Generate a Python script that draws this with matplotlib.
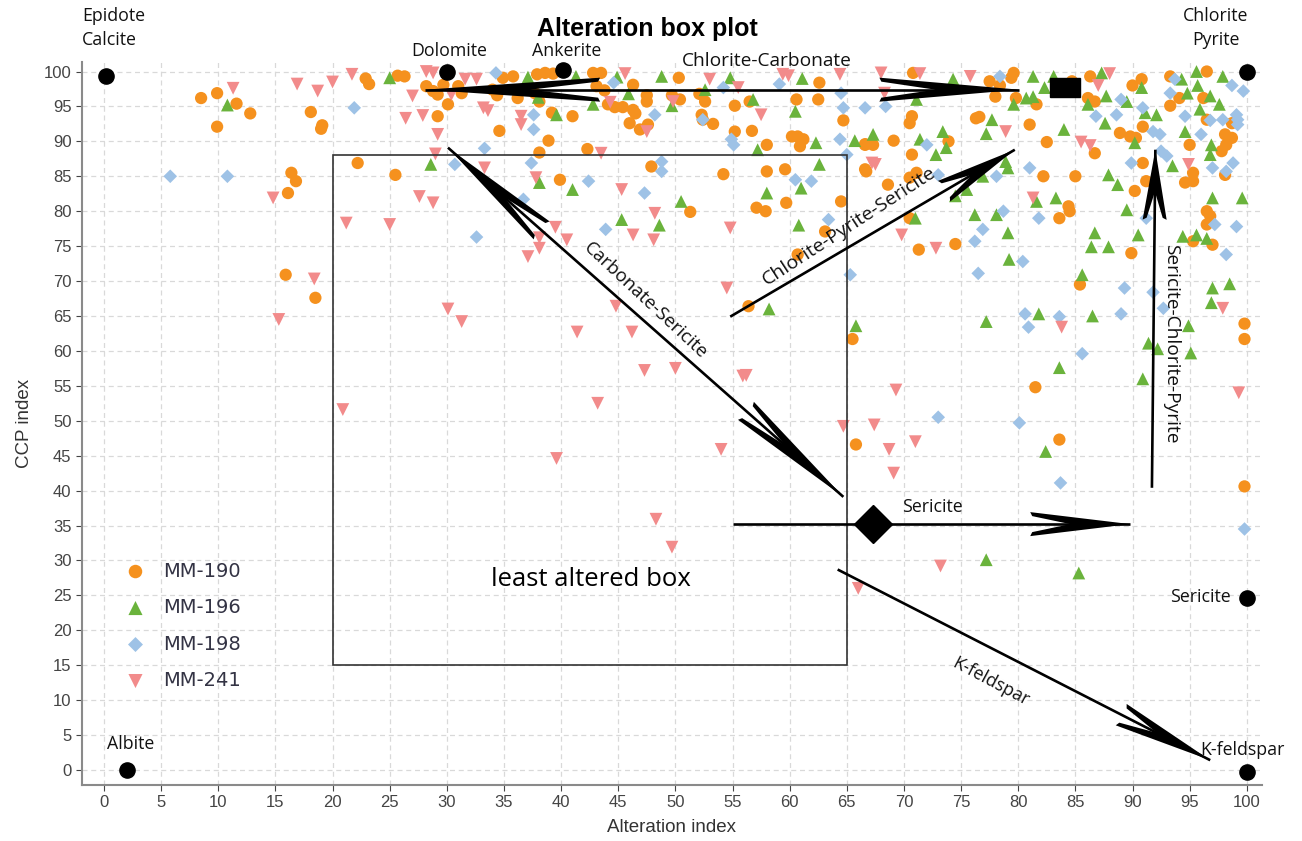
import numpy as np
import matplotlib
matplotlib.use("Agg")
import matplotlib.pyplot as plt
from matplotlib.patches import Polygon, Rectangle

# ---- sample data (Alteration index, CCP index) ----
mm190_x = [8.5, 9.9, 11.6, 12.8, 9.9, 18.1, 19.1, 19.0, 16.4, 16.8, 16.1, 15.9, 18.5, 22.2, 25.5,
           22.9, 23.2, 25.7, 26.3, 28.2, 28.8, 29.2, 29.7, 30.1, 29.2, 31.0, 31.3, 34.6, 38.9, 38.1,
           42.3, 39.9, 41.0, 39.2, 36.2, 34.4, 34.0, 34.9, 35.8, 37.9, 38.6, 39.3, 42.8, 43.5, 38.1,
           37.7, 43.8, 43.1, 46.3, 46.0, 46.5, 47.5, 46.9, 47.6, 47.9, 51.3, 44.1, 44.7, 45.4, 46.3,
           47.5, 49.7, 50.4, 50.3, 52.1, 52.6, 52.3, 52.4, 53.3, 55.2, 55.2, 56.7, 56.5, 54.2, 58.0,
           58.0, 59.6, 57.1, 57.9, 59.7, 60.6, 60.2, 60.7, 61.2, 60.9, 62.6, 62.5, 64.7, 64.5, 63.1,
           66.6, 66.6, 60.7, 56.4, 65.5, 65.8, 70.8, 70.7, 70.5, 69.1, 67.3, 70.7, 66.7, 68.6, 70.5,
           71.1, 70.5, 71.3, 74.5, 73.9, 76.3, 76.6, 77.5, 78.0, 79.6, 79.4, 78.4, 79.8, 81.6, 81.0,
           82.5, 82.2, 85.0, 83.6, 84.4, 84.5, 84.7, 86.3, 86.1, 86.7, 86.7, 88.9, 89.8, 90.3, 90.9,
           90.2, 90.9, 91.2, 89.9, 90.0, 90.8, 93.3, 94.1, 93.3, 96.5, 96.2, 95.0, 94.6, 95.3, 95.3,
           96.5, 96.8, 96.5, 95.3, 97.0, 98.1, 98.7, 98.2, 97.8, 98.7, 98.1, 85.4, 96.5, 81.5, 83.6,
           99.8, 99.8, 99.8, 66.6]
mm190_y = [96.2, 96.9, 95.4, 94.0, 92.1, 94.2, 92.3, 91.8, 85.5, 84.3, 82.6, 70.9, 67.6, 86.9, 85.2,
           99.0, 98.2, 99.4, 99.3, 97.9, 97.2, 96.7, 98.1, 95.3, 93.6, 97.9, 96.9, 91.5, 90.1, 88.4,
           88.9, 84.5, 93.6, 94.1, 96.2, 96.6, 97.4, 99.1, 99.3, 99.6, 99.8, 99.7, 99.8, 99.8, 95.7,
           96.9, 97.3, 97.9, 98.1, 92.6, 94.0, 95.7, 91.7, 92.4, 86.4, 79.9, 95.3, 94.9, 94.9, 94.5,
           96.6, 96.6, 96.0, 99.1, 96.8, 95.7, 93.8, 93.1, 92.5, 95.1, 91.4, 91.5, 95.7, 85.3, 89.5,
           85.7, 86.0, 80.5, 80.0, 81.2, 96.0, 90.7, 90.7, 90.3, 89.3, 98.4, 96.0, 93.0, 81.4, 77.1,
           86.0, 89.5, 73.8, 66.4, 61.7, 46.6, 99.8, 93.6, 92.6, 90.1, 89.5, 88.1, 85.7, 83.8, 84.8,
           85.5, 79.0, 74.5, 75.3, 90.0, 93.3, 93.5, 98.6, 96.4, 99.8, 99.1, 98.0, 96.2, 95.3, 92.4,
           89.9, 85.0, 85.0, 79.0, 80.7, 80.0, 98.6, 99.3, 96.2, 95.7, 88.3, 91.2, 90.7, 90.5, 92.1,
           82.9, 86.9, 84.3, 74.0, 98.0, 98.9, 95.1, 96.2, 99.3, 100.0, 96.2, 89.5, 84.1, 84.3, 85.5,
           80.0, 79.3, 78.1, 75.7, 75.2, 91.0, 90.5, 89.5, 88.6, 92.6, 85.2, 69.5, 93.1, 54.8, 47.3,
           63.9, 61.7, 40.6, 89.6]

mm196_x = [10.8, 25.0, 28.6, 37.1, 41.3, 38.0, 42.8, 44.9, 45.9, 48.8, 49.7, 52.6, 54.8, 56.8, 60.5,
           61.1, 62.3, 65.7, 62.6, 57.2, 39.6, 38.1, 41.0, 50.5, 45.3, 48.6, 58.0, 61.0, 60.8, 58.2,
           65.8, 74.3, 71.1, 67.3, 71.4, 73.4, 72.8, 73.7, 71.0, 74.5, 75.5, 76.9, 76.2, 78.1, 79.1,
           79.2, 78.9, 79.1, 77.2, 77.7, 81.3, 83.1, 82.3, 79.6, 80.7, 81.3, 84.0, 81.6, 83.3, 87.3,
           87.7, 86.1, 89.5, 90.8, 91.1, 92.1, 87.6, 87.9, 88.7, 89.5, 90.2, 86.7, 86.4, 87.9, 90.5,
           85.6, 94.3, 94.8, 95.6, 95.7, 97.9, 96.8, 97.6, 95.9, 94.6, 93.5, 96.9, 96.8, 97.0, 99.6,
           94.4, 95.6, 96.5, 97.0, 98.5, 96.9, 77.2, 81.8, 86.5, 83.6, 82.4, 94.9, 91.4, 92.2, 95.1,
           90.9, 77.2, 85.3]
mm196_y = [95.2, 99.1, 86.7, 99.2, 99.3, 96.3, 95.3, 99.2, 96.8, 99.3, 95.1, 97.4, 99.1, 96.0, 94.3,
           99.0, 89.8, 90.1, 86.7, 88.8, 93.8, 84.1, 83.1, 81.4, 78.8, 78.0, 82.6, 83.3, 78.0, 66.0,
           63.6, 98.9, 96.0, 91.0, 90.3, 91.4, 88.1, 89.1, 79.0, 82.2, 83.1, 85.0, 79.5, 79.5, 76.9,
           73.1, 87.1, 86.2, 91.1, 93.1, 99.3, 99.3, 97.7, 95.3, 96.2, 96.4, 91.7, 81.4, 81.9, 99.8,
           96.5, 95.3, 95.7, 97.7, 94.1, 93.8, 92.6, 85.2, 83.8, 80.2, 89.8, 76.9, 74.9, 74.9, 76.6,
           70.9, 98.9, 96.9, 100.0, 98.0, 99.3, 96.5, 95.3, 94.6, 91.4, 86.5, 89.5, 88.1, 81.9, 81.9,
           76.4, 76.6, 76.1, 69.0, 69.6, 66.9, 64.2, 65.3, 65.0, 57.6, 45.6, 63.6, 61.1, 60.3, 59.7,
           56.0, 30.1, 28.2]

mm198_x = [5.8, 10.8, 21.9, 30.7, 32.6, 34.3, 33.3, 37.4, 37.6, 37.6, 42.4, 47.3, 48.8, 48.8, 48.2,
           43.9, 36.7, 52.4, 54.2, 54.9, 55.1, 44.6, 60.5, 61.9, 63.4, 65.3, 64.5, 64.7, 64.4, 65.0,
           66.6, 59.1, 68.4, 72.0, 73.0, 78.1, 78.7, 76.9, 76.2, 76.5, 80.4, 81.0, 81.8, 78.4, 86.8,
           88.6, 89.0, 90.9, 91.8, 92.4, 92.5, 93.0, 89.9, 91.2, 93.3, 93.7, 96.0, 97.0, 97.2, 99.1,
           98.2, 98.8, 98.2, 99.1, 99.2, 99.2, 98.7, 99.7, 96.8, 97.9, 94.6, 89.3, 91.8, 92.7, 73.0,
           80.1, 83.7, 99.8, 80.6, 80.9, 83.6, 89.0, 85.6]
mm198_y = [85.0, 85.0, 94.8, 86.7, 76.3, 99.8, 89.0, 86.9, 91.7, 93.8, 84.3, 82.6, 87.1, 85.7, 93.8,
           77.4, 81.7, 93.1, 97.7, 90.3, 89.5, 98.4, 84.5, 84.3, 78.8, 70.9, 96.9, 94.8, 90.3, 88.1,
           94.8, 98.2, 95.0, 89.5, 85.2, 85.0, 80.0, 77.4, 75.7, 71.1, 72.8, 86.2, 79.0, 99.3, 93.6,
           93.8, 96.0, 94.8, 91.4, 91.0, 88.6, 87.9, 86.9, 79.0, 96.9, 98.9, 91.0, 86.2, 78.1, 77.8,
           73.8, 86.9, 85.7, 93.8, 93.1, 92.4, 98.0, 97.2, 93.0, 93.1, 93.6, 69.0, 68.4, 66.1, 50.5,
           49.7, 41.1, 34.5, 65.3, 63.4, 64.9, 65.3, 59.6]

mm241_x = [11.3, 16.9, 18.7, 20.0, 21.7, 27.0, 26.4, 27.9, 29.2, 29.0, 28.2, 28.8, 31.6, 32.6, 30.4,
           27.6, 28.8, 21.2, 25.0, 14.8, 18.4, 15.3, 30.1, 20.9, 31.3, 44.8, 41.4, 46.2, 47.3, 50.0,
           56.2, 55.9, 43.2, 54.0, 39.6, 48.3, 49.7, 64.7, 33.2, 33.6, 36.5, 36.5, 33.3, 43.5, 37.8,
           45.3, 48.2, 46.3, 48.1, 54.8, 39.5, 40.5, 38.1, 38.1, 37.1, 45.6, 55.5, 53.0, 49.8, 47.5,
           44.3, 57.5, 59.4, 59.9, 64.4, 54.5, 68.0, 71.4, 75.8, 88.0, 87.0, 68.3, 78.9, 67.2, 67.5,
           85.5, 86.3, 81.3, 69.8, 72.8, 94.9, 97.9, 83.8, 69.3, 67.4, 68.7, 71.0, 69.1, 99.3, 73.2,
           66.0]
mm241_y = [97.6, 98.2, 97.2, 98.5, 99.6, 96.5, 93.3, 93.7, 91.0, 88.2, 100.0, 99.8, 98.9, 98.9, 96.7,
           82.1, 81.2, 78.3, 78.1, 81.9, 70.3, 64.5, 66.0, 51.6, 64.2, 66.4, 62.7, 62.7, 57.2, 57.5,
           56.5, 56.4, 52.5, 45.9, 44.6, 35.9, 31.9, 49.2, 94.8, 94.4, 93.6, 92.4, 86.2, 88.3, 84.8,
           83.1, 79.7, 76.6, 75.9, 77.6, 77.7, 75.9, 76.2, 74.7, 73.5, 99.7, 97.7, 98.9, 95.7, 91.4,
           95.6, 93.8, 99.6, 99.4, 99.6, 69.0, 99.8, 99.7, 99.3, 99.7, 98.0, 96.9, 91.4, 86.9, 86.7,
           89.9, 89.4, 81.9, 76.6, 74.7, 86.7, 66.1, 63.4, 54.4, 49.4, 45.9, 47.0, 42.5, 54.0, 29.2,
           26.0]

# mineral end-members
mineral_x = [0.2, 30.0, 40.2, 100.0, 100.0, 100.0, 2.0]
mineral_y = [99.3, 100.0, 100.2, 100.0, 24.6, -0.3, 0.0]

# alteration trend arrows: (tail, tip, double headed)
trends = [
    ((80.1, 97.4), (28.1, 97.4), True),      # chlorite-carbonate
    ((30.1, 89.1), (64.7, 39.1), True),      # carbonate-sericite
    ((54.8, 64.9), (79.7, 88.8), False),     # chlorite-pyrite-sericite
    ((91.7, 40.4), (92.0, 88.8), False),     # sericite-chlorite-pyrite
    ((55.0, 35.2), (89.8, 35.2), False),     # sericite
    ((64.2, 28.7), (96.8, 1.4), False),      # K-feldspar
]
head_len = [(175, 140), (130, 125), (82,), (70,), (100,), (100,)]

orange = '#F5911E'
green = '#6AB33C'
blue = '#9EC2E6'
pink = '#F28B8B'
ann_font = 'Open Sans'

fig = plt.figure(figsize=(13.02, 8.41), dpi=100)
ax = fig.add_axes([0.063, 0.0666, 0.906, 0.860])
ax.set_xlim(-1.92, 101.3)
ax.set_ylim(-2.15, 101.4)

ax.set_xticks(np.arange(0, 101, 5))
ax.set_yticks(np.arange(0, 101, 5))
ax.grid(True, color='#d9d9d9', linestyle=(0, (4, 3)), linewidth=0.9)
ax.set_axisbelow(True)
ax.tick_params(colors='#444444', labelsize=12, length=4, width=0.8)
for lab in ax.get_xticklabels() + ax.get_yticklabels():
    lab.set_family('Liberation Sans')
for s in ['top', 'right']:
    ax.spines[s].set_visible(False)
for s in ['left', 'bottom']:
    ax.spines[s].set_color('#8a8a8a')
    ax.spines[s].set_linewidth(1.5)
ax.set_xlabel('Alteration index', fontsize=13.5, color='#333333', family='Liberation Sans', labelpad=6)
ax.set_ylabel('CCP index', fontsize=13.5, color='#333333', family='Liberation Sans', labelpad=8)

ax.scatter(mm190_x, mm190_y, s=78, marker='o', color=orange, edgecolors='none', label='MM-190', zorder=3)
ax.scatter(mm196_x, mm196_y, s=85, marker='^', color=green, edgecolors='none', label='MM-196', zorder=3)
ax.scatter(mm198_x, mm198_y, s=48, marker='D', color=blue, edgecolors='none', label='MM-198', zorder=3)
ax.scatter(mm241_x, mm241_y, s=85, marker='v', color=pink, edgecolors='none', label='MM-241', zorder=3)

leg = ax.legend(loc='upper left', bbox_to_anchor=(0.014, 0.333), frameon=False, fontsize=14,
                labelspacing=0.9, handletextpad=0.4, markerscale=1.1)
for t in leg.get_texts():
    t.set_color('#333344')

ax.scatter(mineral_x, mineral_y, s=120, color='black', zorder=6, clip_on=False)

# least altered box
ax.add_patch(Rectangle((20, 15), 45, 73, fill=False, edgecolor='#333333', linewidth=1.2, zorder=4))
ax.text(42.6, 27.2, 'least altered box', fontsize=18.5, family=ann_font, ha='center', va='center', zorder=5)


def barbed_head(tip, tail, length, half=12, notch=0.6, barb=4):
    T = ax.transData
    pt = T.transform(tip)
    pb = T.transform(tail)
    d = pt - pb
    d = d / np.hypot(*d)
    n = np.array([-d[1], d[0]])
    pts = [pt,
           pt - d * length + n * half,
           pt - d * (length - 2) + n * (half - barb),
           pt - d * length * notch,
           pt - d * (length - 2) - n * (half - barb),
           pt - d * length - n * half]
    pts = T.inverted().transform(np.array(pts))
    ax.add_patch(Polygon(pts, closed=True, color='black', linewidth=0, zorder=7))


for (tail, tip, both), hl in zip(trends, head_len):
    ax.plot([tail[0], tip[0]], [tail[1], tip[1]], color='black', linewidth=1.9, zorder=7,
            solid_capstyle='butt')
    barbed_head(tip, tail, hl[0])
    if both:
        barbed_head(tail, tip, hl[1])

ax.plot([67.3], [35.2], marker='D', markersize=19, color='black', zorder=8)
ax.add_patch(Rectangle((82.8, 96.4), 2.6, 2.6, color='black', zorder=8))

# labels
kw = dict(family=ann_font, fontsize=12.8, color='#111111', zorder=9)
ax.text(-1.9, 106.2, 'Epidote\nCalcite', ha='left', va='center', linespacing=1.45, clip_on=False, **kw)
ax.text(97.3, 106.2, 'Chlorite\nPyrite', ha='center', va='center', linespacing=1.45, clip_on=False, **kw)
ax.text(30.2, 102.9, 'Dolomite', ha='center', va='center', clip_on=False, **kw)
ax.text(40.5, 102.9, 'Ankerite', ha='center', va='center', clip_on=False, **kw)
ax.text(58.0, 101.5, 'Chlorite-Carbonate', ha='center', va='center', clip_on=False,
        **{**kw, 'fontsize': 13.8})
ax.text(98.6, 24.8, 'Sericite', ha='right', va='center', **kw)
ax.text(95.9, 2.9, 'K-feldspar', ha='left', va='center', clip_on=False, **kw)
ax.text(2.3, 3.7, 'Albite', ha='center', va='center', **kw)
ax.text(72.5, 37.6, 'Sericite', ha='center', va='center', **kw)
ax.text(47.4, 67.2, 'Carbonate-Sericite', ha='center', va='center', rotation=-43,
        rotation_mode='anchor', **{**kw, 'fontsize': 13.5})
ax.text(65.2, 77.8, 'Chlorite-Pyrite-Sericite', ha='center', va='center', rotation=33,
        rotation_mode='anchor', **{**kw, 'fontsize': 14})
ax.text(93.4, 61.0, 'Sericite-Chlorite-Pyrite', ha='center', va='center', rotation=-90,
        rotation_mode='anchor', **{**kw, 'fontsize': 13.8})
ax.text(77.6, 12.6, 'K-feldspar', ha='center', va='center', rotation=-28,
        rotation_mode='anchor', **kw)

fig.text(0.497, 0.966, 'Alteration box plot', ha='center', va='center', fontsize=18,
         fontweight='bold', family='Liberation Sans')

fig.savefig('out.png', dpi=100)
